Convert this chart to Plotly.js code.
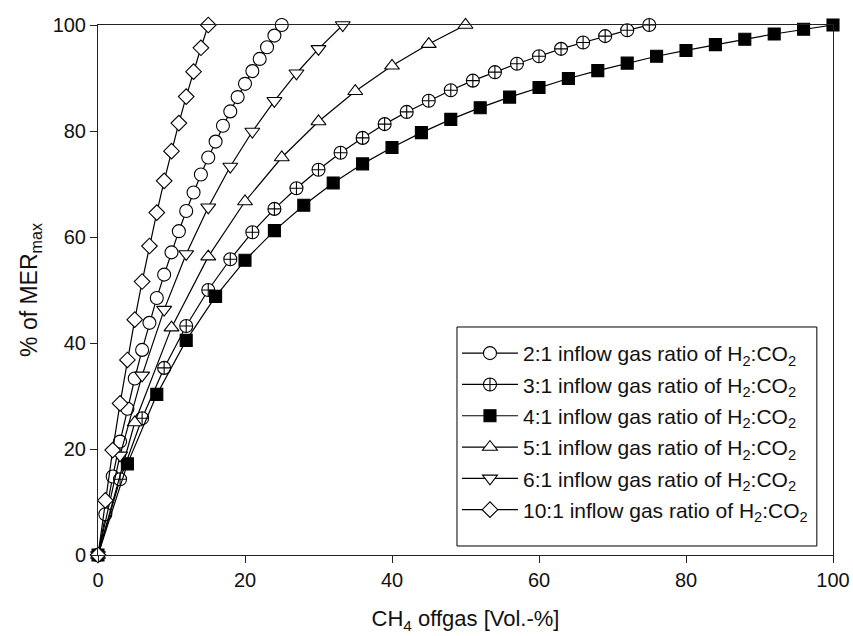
<!DOCTYPE html>
<html>
<head>
<meta charset="utf-8">
<script src="https://cdn.plot.ly/plotly-3.0.1.min.js"></script>
<style>html,body{margin:0;padding:0;background:#fff;}#chart{width:853px;height:636px;}</style>
</head>
<body>
<div id="chart"></div>
<script>
// CH4 offgas [Vol.-%] (x) and % of MER_max (y) per inflow ratio
var x21 = [0,1,2,3,4,5,6,7,8,9,10,11,12,13,14,15,16,17,18,19,20,21,22,23,24,25];
var y21 = [0,7.7,14.8,21.4,27.6,33.3,38.7,43.8,48.5,52.9,57.1,61.1,64.9,68.4,71.8,75.0,78.0,81.0,83.7,86.4,88.9,91.3,93.6,95.8,98.0,100];

var x31 = [0,3,6,9,12,15,18,21,24,27,30,33,36,39,42,45,48,51,54,57,60,63,66,69,72,75];
var y31 = [0,14.3,25.8,35.3,43.2,50.0,55.8,60.9,65.3,69.2,72.7,75.9,78.7,81.3,83.6,85.7,87.7,89.5,91.1,92.7,94.1,95.5,96.7,97.9,99.0,100];

var x41 = [0,4,8,12,16,20,24,28,32,36,40,44,48,52,56,60,64,68,72,76,80,84,88,92,96,100];
var y41 = [0,17.2,30.3,40.5,48.8,55.6,61.2,66.0,70.2,73.8,76.9,79.7,82.2,84.4,86.4,88.2,89.9,91.4,92.8,94.1,95.2,96.3,97.3,98.3,99.2,100];

var x51 = [0,5,10,15,20,25,30,35,40,45,50];
var y51 = [0,25.0,42.9,56.3,66.7,75.0,81.8,87.5,92.3,96.4,100];

var x61 = [0,3,6,9,12,15,18,21,24,27,30,33.3];
var y61 = [0,18.8,33.9,46.3,56.8,65.6,73.3,79.9,85.7,90.9,95.5,100];

var x101 = [0,1,2,3,4,5,6,7,8,9,10,11,12,13,14,15];
var y101 = [0,10.3,19.8,28.6,36.8,44.4,51.6,58.3,64.6,70.6,76.2,81.5,86.5,91.2,95.7,100];

var names = [
  '2:1 inflow gas ratio of H<sub>2</sub>:CO<sub>2</sub>',
  '3:1 inflow gas ratio of H<sub>2</sub>:CO<sub>2</sub>',
  '4:1 inflow gas ratio of H<sub>2</sub>:CO<sub>2</sub>',
  '5:1 inflow gas ratio of H<sub>2</sub>:CO<sub>2</sub>',
  '6:1 inflow gas ratio of H<sub>2</sub>:CO<sub>2</sub>',
  '10:1 inflow gas ratio of H<sub>2</sub>:CO<sub>2</sub>'
];

function tr(i, x, y, symbol, size, fill) {
  return {
    x: x, y: y, name: names[i], legendgroup: 'g' + i, type: 'scatter', mode: 'lines+markers',
    cliponaxis: false,
    line: {color: '#000', width: 1.2},
    marker: {symbol: symbol, size: size, color: fill, line: {color: '#000', width: 1.1}}
  };
}

var data = [
  tr(0, x21, y21, 'circle', 13, '#fff'),
  tr(1, x31, y31, 'circle-cross', 13, '#fff'),
  tr(2, x41, y41, 'square', 12, '#000'),
  tr(3, x51, y51, 'triangle-up', 13, '#fff'),
  tr(4, x61, y61, 'triangle-down', 13, '#fff'),
  tr(5, x101, y101, 'diamond', 12, '#fff')
];

var fontFam = '"Liberation Sans", Arial, Helvetica, sans-serif';

var layout = {
  width: 853, height: 636,
  margin: {l: 98, r: 20, t: 25, b: 81},
  paper_bgcolor: '#fff', plot_bgcolor: '#fff',
  font: {family: fontFam, color: '#111', size: 20},
  showlegend: true,
  legend: {
    x: 0.4884, y: 0.4189, xanchor: 'left', yanchor: 'top',
    bgcolor: 'rgba(0,0,0,0)', borderwidth: 0,
    itemwidth: 56, tracegroupgap: 1,
    font: {family: fontFam, size: 21, color: '#111'}
  },
  shapes: [{
    type: 'rect', xref: 'paper', yref: 'paper',
    x0: 0.4884, x1: 0.978, y0: 0.017, y1: 0.4302,
    line: {color: '#000', width: 1}, fillcolor: '#fff', layer: 'above'
  }],
  xaxis: {
    range: [0, 100], tickvals: [0, 20, 40, 60, 80, 100],
    showgrid: false, zeroline: false,
    showline: true, linecolor: '#222', linewidth: 1, mirror: true,
    ticks: 'outside', ticklen: 7, tickcolor: '#222',
    tickfont: {size: 20},
    title: {text: 'CH<sub>4</sub> offgas [Vol.-%]', font: {size: 22}, standoff: 20}
  },
  yaxis: {
    range: [0, 100], tickvals: [0, 20, 40, 60, 80, 100],
    showgrid: false, zeroline: false,
    showline: true, linecolor: '#222', linewidth: 1, mirror: true,
    ticks: 'outside', ticklen: 7, tickcolor: '#222',
    tickfont: {size: 20},
    title: {text: '% of MER<sub>max</sub>', font: {size: 23}, standoff: 8}
  }
};

Plotly.newPlot('chart', data, layout, {displayModeBar: false, staticPlot: true});
</script>
</body>
</html>
